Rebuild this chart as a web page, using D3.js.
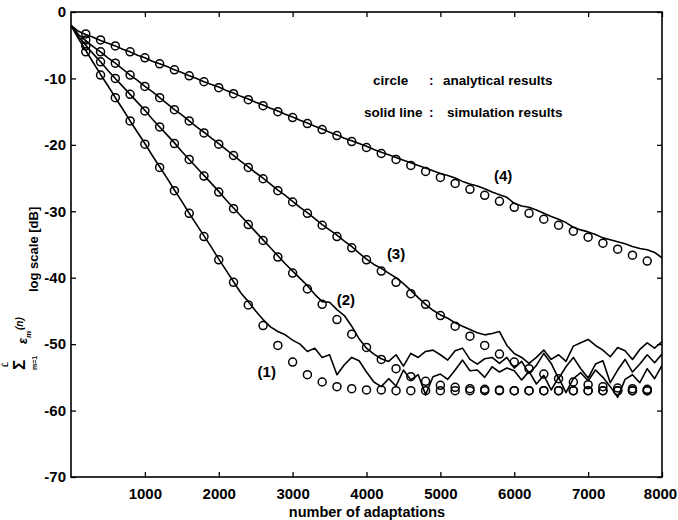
<!DOCTYPE html>
<html>
<head>
<meta charset="utf-8">
<script src="https://cdn.jsdelivr.net/npm/d3@7"></script>
<style>
  body { margin: 0; background: #fff; }
  svg { display: block; }
  text { font-family: "Liberation Sans", Arial, sans-serif; font-weight: bold; fill: #000; }
</style>
</head>
<body>
<div id="chart"></div>
<script>
// simulation curves, one value every 100 adaptations (0 .. 8000)
const simStep = 100;
const sim1 = [-2.0,-4.0,-5.8,-7.6,-9.4,-11.1,-12.9,-14.6,-16.4,-18.1,-19.8,-21.6,-23.3,-25.0,-26.8,-28.5,-30.3,-32.0,-33.7,-35.4,
  -37.2,-38.9,-40.6,-42.3,-43.6,-45.0,-46.3,-47.4,-48.1,-48.6,-49.4,-50.0,-51.1,-50.6,-52.0,-51.6,-54.6,-53.1,-52.0,-52.5,
  -54.2,-55.7,-56.4,-55.2,-56.3,-53.9,-55.4,-54.6,-57.6,-54.9,-54.5,-55.3,-53.9,-52.4,-54.0,-53.9,-55.0,-53.4,-54.2,-53.6,
  -54.0,-55.4,-54.1,-56.0,-54.7,-56.9,-55.0,-57.3,-55.2,-54.3,-55.5,-53.9,-55.0,-56.4,-58.0,-55.3,-54.6,-55.8,-53.7,-55.2,-53.2];
const sim2 = [-2.0,-3.7,-5.0,-6.3,-7.5,-8.8,-10.0,-11.2,-12.4,-13.6,-14.8,-16.1,-17.3,-18.5,-19.7,-21.0,-22.2,-23.4,-24.6,-25.8,
  -27.0,-28.3,-29.5,-30.7,-31.9,-33.1,-34.3,-35.5,-36.7,-37.9,-39.0,-40.1,-41.2,-42.5,-43.6,-43.7,-44.8,-45.7,-47.3,-49.2,
  -50.6,-51.5,-52.2,-52.6,-51.6,-53.3,-51.4,-52.0,-51.1,-50.9,-51.6,-52.4,-51.0,-50.6,-52.3,-53.0,-52.2,-52.0,-52.9,-52.0,
  -53.6,-52.6,-54.4,-53.2,-51.4,-52.9,-55.2,-53.4,-52.0,-53.7,-55.1,-53.0,-52.5,-55.8,-53.9,-52.3,-54.2,-53.0,-51.6,-52.8,-51.5];
const sim3 = [-2.0,-3.4,-4.3,-5.2,-6.0,-6.9,-7.7,-8.6,-9.5,-10.3,-11.2,-12.0,-12.9,-13.8,-14.7,-15.5,-16.4,-17.3,-18.1,-19.0,
  -19.8,-20.7,-21.6,-22.5,-23.3,-24.2,-25.0,-25.9,-26.8,-27.6,-28.5,-29.4,-30.2,-31.1,-32.0,-32.8,-33.6,-34.5,-35.3,-36.3,
  -37.2,-38.0,-38.6,-39.3,-40.0,-40.9,-41.9,-43.0,-44.0,-44.9,-45.6,-46.1,-46.8,-47.3,-47.8,-48.3,-48.6,-48.4,-48.1,-50.2,
  -51.4,-52.0,-52.9,-52.0,-50.9,-52.3,-51.6,-52.6,-50.3,-49.8,-49.3,-50.2,-50.9,-51.9,-50.5,-51.0,-52.3,-50.8,-49.8,-50.6,-49.6];
const sim4 = [-2.0,-2.9,-3.4,-3.8,-4.3,-4.7,-5.1,-5.6,-6.0,-6.5,-6.9,-7.4,-7.8,-8.2,-8.7,-9.1,-9.6,-10.0,-10.5,-10.9,
  -11.3,-11.8,-12.2,-12.7,-13.1,-13.6,-14.0,-14.5,-14.9,-15.4,-15.8,-16.3,-16.7,-17.2,-17.6,-18.1,-18.5,-19.0,-19.4,-19.8,
  -20.2,-20.7,-21.1,-21.5,-21.9,-22.3,-22.7,-23.1,-23.5,-23.9,-24.3,-24.6,-25.0,-25.5,-25.9,-26.2,-26.6,-27.1,-27.5,-27.9,
  -28.8,-29.2,-29.4,-29.8,-30.3,-30.8,-31.2,-31.7,-32.4,-32.8,-33.1,-33.5,-34.0,-34.3,-34.6,-34.9,-35.3,-35.6,-35.8,-36.2,-37.0];

// analytical curves, one circle every 200 adaptations (200 .. 7800)
const circStart = 200, circStep = 200;
const circ1 = [-6.0,-9.5,-12.9,-16.4,-19.9,-23.4,-26.9,-30.3,-33.8,-37.3,-40.7,-44.1,-47.2,-50.2,-52.7,-54.6,-55.7,-56.4,-56.7,-56.9,
  -56.9,-57.0,-57.0,-57.0,-57.0,-57.0,-57.0,-57.0,-57.0,-57.0,-57.0,-57.0,-57.0,-57.0,-57.0,-57.0,-57.0,-57.0,-57.0];
const circ2 = [-5.1,-7.5,-10.0,-12.4,-14.9,-17.3,-19.8,-22.2,-24.7,-27.1,-29.6,-32.0,-34.4,-36.9,-39.3,-41.7,-44.0,-46.3,-48.5,-50.5,
  -52.3,-53.7,-54.9,-55.6,-56.2,-56.5,-56.7,-56.8,-56.9,-57.0,-57.0,-57.0,-57.0,-57.0,-57.0,-57.0,-57.0,-57.0,-57.0];
const circ3 = [-4.2,-6.0,-7.7,-9.5,-11.2,-12.9,-14.7,-16.4,-18.2,-19.9,-21.6,-23.4,-25.1,-26.9,-28.6,-30.3,-32.1,-33.8,-35.5,-37.3,
  -39.0,-40.7,-42.4,-44.0,-45.7,-47.3,-48.8,-50.2,-51.5,-52.7,-53.7,-54.5,-55.2,-55.7,-56.1,-56.4,-56.6,-56.7,-56.8];
const circ4 = [-3.3,-4.2,-5.1,-6.0,-6.9,-7.8,-8.7,-9.6,-10.5,-11.4,-12.3,-13.2,-14.1,-15.0,-15.9,-16.8,-17.7,-18.6,-19.5,-20.4,
  -21.3,-22.2,-23.1,-24.0,-24.9,-25.8,-26.7,-27.6,-28.5,-29.4,-30.3,-31.2,-32.1,-33.0,-33.9,-34.8,-35.7,-36.6,-37.5];

// curve labels
const curveLabels = [
  { text: "(1)", n: 2650, v: -54.3 },
  { text: "(2)", n: 3720, v: -43.5 },
  { text: "(3)", n: 4400, v: -36.6 },
  { text: "(4)", n: 5850, v: -24.9 }
];
const xTicks = [1000, 2000, 3000, 4000, 5000, 6000, 7000, 8000];
const yTicks = [0, -10, -20, -30, -40, -50, -60, -70];

const width = 678, height = 520;
const margin = { top: 12, right: 16, bottom: 43, left: 71 };

const svg = d3.select("#chart").append("svg")
  .attr("width", width)
  .attr("height", height);

svg.append("rect").attr("width", width).attr("height", height).attr("fill", "#fff");

const x = d3.scaleLinear().domain([0, 8000]).range([margin.left, width - margin.right]);
const y = d3.scaleLinear().domain([-70, 0]).range([height - margin.bottom, margin.top]);

svg.append("defs").append("clipPath").attr("id", "plot")
  .append("rect")
  .attr("x", margin.left).attr("y", margin.top)
  .attr("width", x(8000) - x(0)).attr("height", y(-70) - y(0));

// ticks inward on all four sides
const tickLen = 5;
const axisStyle = g => {
  g.select(".domain").remove();
  g.selectAll("line").attr("stroke", "#000").attr("stroke-width", 1.3);
  g.selectAll("text").attr("font-size", 15).attr("fill", "#000");
};
const xAxis = svg.append("g")
  .attr("transform", `translate(0,${y(-70)})`)
  .call(d3.axisBottom(x).tickValues(xTicks).tickSize(-tickLen).tickPadding(11).tickFormat(d => String(d)))
  .call(axisStyle);
// keep the last label inside the page
xAxis.selectAll(".tick text").filter(d => d === 8000).attr("dx", -2);
svg.append("g")
  .attr("transform", `translate(0,${y(0)})`)
  .call(d3.axisTop(x).tickValues(xTicks).tickSize(-tickLen).tickFormat(""))
  .call(axisStyle);
svg.append("g")
  .attr("transform", `translate(${x(0)},0)`)
  .call(d3.axisLeft(y).tickValues(yTicks).tickSize(-tickLen).tickPadding(5).tickFormat(d => String(d)))
  .call(axisStyle);
svg.append("g")
  .attr("transform", `translate(${x(8000)},0)`)
  .call(d3.axisRight(y).tickValues(yTicks).tickSize(-tickLen).tickFormat(""))
  .call(axisStyle);

const plot = svg.append("g").attr("clip-path", "url(#plot)");

const line = d3.line()
  .x((d, i) => x(i * simStep))
  .y(d => y(d));

[sim1, sim2, sim3, sim4].forEach(s => {
  plot.append("path")
    .datum(s)
    .attr("d", line)
    .attr("fill", "none")
    .attr("stroke", "#000")
    .attr("stroke-width", 1.6)
    .attr("stroke-linejoin", "round");
});

[circ1, circ2, circ3, circ4].forEach(c => {
  svg.append("g").selectAll("circle")
    .data(c)
    .join("circle")
    .attr("cx", (d, i) => x(circStart + i * circStep))
    .attr("cy", d => y(d))
    .attr("r", 4)
    .attr("fill", "none")
    .attr("stroke", "#000")
    .attr("stroke-width", 1.5);
});

// frame
svg.append("rect")
  .attr("x", x(0)).attr("y", y(0))
  .attr("width", x(8000) - x(0)).attr("height", y(-70) - y(0))
  .attr("fill", "none").attr("stroke", "#000").attr("stroke-width", 1.6);

svg.selectAll(".clabel")
  .data(curveLabels)
  .join("text")
  .attr("class", "clabel")
  .attr("x", d => x(d.n))
  .attr("y", d => y(d.v))
  .attr("text-anchor", "middle")
  .attr("dominant-baseline", "middle")
  .attr("font-size", 15)
  .text(d => d.text);

// legend text
const legend = svg.append("g").attr("font-size", 13.5);
legend.append("text").attr("x", 373).attr("y", 85).text("circle");
legend.append("text").attr("x", 429).attr("y", 85).text(":");
legend.append("text").attr("x", 443).attr("y", 85).text("analytical results");
legend.append("text").attr("x", 364).attr("y", 117).text("solid line");
legend.append("text").attr("x", 429).attr("y", 117).text(":");
legend.append("text").attr("x", 447).attr("y", 117).text("simulation results");

// x axis title
svg.append("text")
  .attr("x", 367).attr("y", 517)
  .attr("text-anchor", "middle")
  .attr("font-size", 14.5)
  .text("number of adaptations");

// y axis title (rotated)
const yt = svg.append("g").attr("transform", "translate(38,370) rotate(-90)");
yt.append("text").attr("x", 0).attr("y", -13).attr("font-size", 17).text("Σ");
yt.append("text").attr("x", 0).attr("y", -1).attr("font-size", 7).text("m=1");
yt.append("text").attr("x", 3).attr("y", -30).attr("font-size", 8).text("L̂");
yt.append("text").attr("x", 26).attr("y", -11).attr("font-size", 13).attr("font-style", "italic").text("ε");
yt.append("text").attr("x", 32).attr("y", -7).attr("font-size", 8).attr("font-style", "italic").text("m");
yt.append("text").attr("x", 40).attr("y", -15).attr("font-size", 10).attr("font-style", "italic").text("(n)");
yt.append("text").attr("x", 78).attr("y", 0).attr("font-size", 13).text("log scale [dB]");
</script>
</body>
</html>
